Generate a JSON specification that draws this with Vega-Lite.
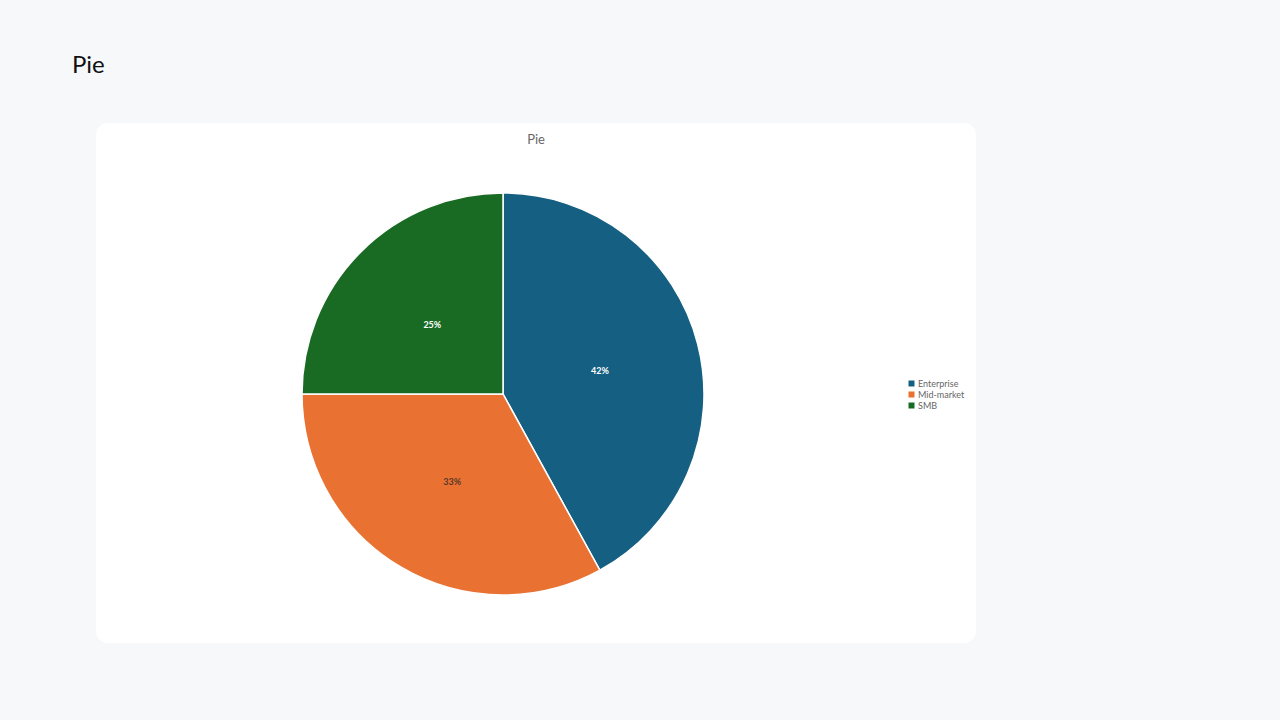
{
  "$schema": "https://vega.github.io/schema/vega-lite/v6.json",
  "background": "#f7f8fa",
  "padding": {"left": 72, "top": 54, "right": 304, "bottom": 78},
  "title": {"text": "Pie", "anchor": "start", "frame": "group", "dx": -24, "offset": 26, "baseline": "alphabetic", "fontSize": 24, "font": "Lato", "fontWeight": "normal", "color": "#111111"},
  "config": {"view": {"fill": "white", "stroke": null, "cornerRadius": 12}, "font": "Lato"},
  "vconcat": [
    {
      "width": 880,
      "height": 520,
      "view": {"fill": "white", "stroke": null, "cornerRadius": 12},
      "title": {"text": "Pie", "anchor": "middle", "frame": "group", "offset": -34, "baseline": "alphabetic", "fontSize": 13, "fontWeight": "normal", "color": "#666666", "font": "Lato"},
      "data": {"values": [
        {"segment": "Enterprise", "share": 0.42},
        {"segment": "Mid-market", "share": 0.33},
        {"segment": "SMB", "share": 0.25}
      ]},
      "encoding": {
        "theta": {"field": "share", "type": "quantitative", "stack": true},
        "order": {"field": "segment", "type": "nominal", "sort": "ascending"}
      },
      "layer": [
        {
          "mark": {"type": "arc", "x": 407, "y": 271, "outerRadius": 201, "stroke": "white", "strokeWidth": 1.5},
          "encoding": {
            "color": {
              "field": "segment", "type": "nominal",
              "scale": {"domain": ["Enterprise", "Mid-market", "SMB"], "range": ["#156082", "#E97132", "#196B24"]},
              "legend": {"orient": "none", "legendX": 811, "legendY": 256, "title": null, "symbolType": "square", "symbolSize": 36, "symbolStrokeWidth": 0, "labelFontSize": 9, "labelColor": "#666666", "labelFont": "Lato", "rowPadding": 1, "labelOffset": 2}
            }
          }
        },
        {
          "mark": {"type": "text", "x": 407, "y": 271, "radius": 100, "dy": 2, "fontSize": 9, "fontWeight": "bold", "font": "Lato"},
          "encoding": {
            "detail": {"field": "segment", "type": "nominal"},
            "text": {"field": "share", "type": "quantitative", "format": ".0%"},
            "color": {"condition": {"test": "datum.segment === 'Mid-market'", "value": "#5a3a28"}, "value": "#ffffff"}
          }
        }
      ]
    }
  ]
}
